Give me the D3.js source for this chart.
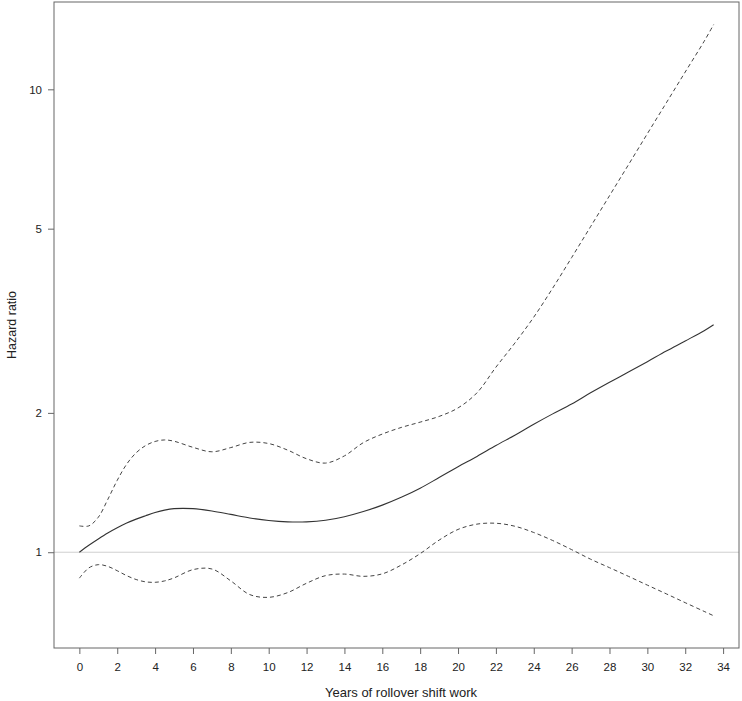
<!DOCTYPE html>
<html>
<head>
<meta charset="utf-8">
<script src="https://cdn.jsdelivr.net/npm/d3@7"></script>
<style>
  body { margin: 0; background: #fff; }
  text { font-family: "Liberation Sans", Arial, sans-serif; fill: #222; }
</style>
</head>
<body>
<div id="chart"></div>
<script>
// years of rollover shift work, and the fitted hazard ratio with its 95% band
var years = [0, 0.5, 1, 1.5, 2, 2.5, 3, 3.5, 4, 4.5, 5, 6, 7, 8, 9, 10, 11, 12, 13, 14,
  15, 16, 17, 18, 19, 20, 21, 22, 23, 24, 25, 26, 27, 28, 29, 30, 31, 32, 33, 33.5];

var hazard = [1.0, 1.035, 1.068, 1.10, 1.129, 1.156, 1.179, 1.199, 1.218, 1.233, 1.242, 1.242,
  1.228, 1.207, 1.186, 1.171, 1.163, 1.163, 1.172, 1.193, 1.224, 1.264, 1.314, 1.375, 1.45,
  1.53, 1.61, 1.70, 1.79, 1.89, 1.99, 2.09, 2.21, 2.33, 2.45, 2.58, 2.72, 2.86, 3.01, 3.10];

var lower = [0.879, 0.925, 0.940, 0.932, 0.912, 0.890, 0.873, 0.863, 0.861, 0.867, 0.880, 0.917,
  0.920, 0.867, 0.810, 0.799, 0.818, 0.857, 0.890, 0.897, 0.887, 0.898, 0.938, 0.993, 1.062,
  1.120, 1.150, 1.155, 1.138, 1.103, 1.060, 1.013, 0.966, 0.926, 0.887, 0.849, 0.813, 0.778, 0.745, 0.729];

var upper = [1.14, 1.14, 1.19, 1.30, 1.43, 1.55, 1.64, 1.70, 1.735, 1.748, 1.737, 1.685,
  1.648, 1.683, 1.727, 1.717, 1.662, 1.592, 1.558, 1.615, 1.725, 1.80, 1.86, 1.91, 1.965,
  2.05, 2.21, 2.51, 2.83, 3.22, 3.72, 4.33, 5.05, 5.89, 6.87, 8.02, 9.35, 10.9, 12.7, 13.8];

var xTicks = d3.range(0, 35, 2);
var yTicks = [1, 2, 5, 10];

const WIDTH = 742;
const HEIGHT = 701;
const LEFT = 54, RIGHT = 739, TOP = 2, BOTTOM = 648;

var xScale = d3.scaleLinear()
  .domain([-1.34, 34.84])
  .range([LEFT, RIGHT]);

var yScale = d3.scaleLog()
  .domain([0.621, 15.44])
  .range([BOTTOM, TOP]);

var svg = d3.select('#chart').append('svg')
  .attr('width', WIDTH)
  .attr('height', HEIGHT);

// reference line at HR = 1
svg.append('line')
  .attr('x1', LEFT).attr('x2', RIGHT)
  .attr('y1', yScale(1)).attr('y2', yScale(1))
  .attr('stroke', '#cfcfcf')
  .attr('stroke-width', 1);

var line = function(values){
  return d3.line()
    .x(function(d, i){ return xScale(years[i]); })
    .y(function(d){ return yScale(d); })
    .curve(d3.curveCatmullRom.alpha(0.5))(values);
};

svg.append('path')
  .attr('d', line(upper))
  .attr('fill', 'none')
  .attr('stroke', '#444')
  .attr('stroke-width', 1)
  .attr('stroke-dasharray', '4,3');

svg.append('path')
  .attr('d', line(lower))
  .attr('fill', 'none')
  .attr('stroke', '#444')
  .attr('stroke-width', 1)
  .attr('stroke-dasharray', '4,3');

svg.append('path')
  .attr('d', line(hazard))
  .attr('fill', 'none')
  .attr('stroke', '#333')
  .attr('stroke-width', 1.1);

// axes
var xAxis = d3.axisBottom(xScale).tickValues(xTicks).tickSize(6).tickPadding(9);
var yAxis = d3.axisLeft(yScale).tickValues(yTicks).tickSize(6).tickPadding(6)
  .tickFormat(d3.format('d'));

var gx = svg.append('g')
  .attr('transform', 'translate(0,' + BOTTOM + ')')
  .call(xAxis);
var gy = svg.append('g')
  .attr('transform', 'translate(' + LEFT + ',0)')
  .call(yAxis);

[gx, gy].forEach(function(g){
  g.select('.domain').remove();
  g.selectAll('.tick line').attr('stroke', '#666');
  g.selectAll('.tick text')
    .attr('font-size', 11.5)
    .attr('font-family', '"Liberation Sans", Arial, sans-serif')
    .attr('fill', '#222');
});

// plot box
svg.append('rect')
  .attr('x', LEFT).attr('y', TOP)
  .attr('width', RIGHT - LEFT).attr('height', BOTTOM - TOP)
  .attr('fill', 'none')
  .attr('stroke', '#666')
  .attr('stroke-width', 1);

svg.append('text')
  .attr('x', 401)
  .attr('y', 697)
  .attr('text-anchor', 'middle')
  .attr('font-size', 13)
  .text('Years of rollover shift work');

svg.append('text')
  .attr('transform', 'translate(16,' + (TOP + BOTTOM) / 2 + ') rotate(-90)')
  .attr('text-anchor', 'middle')
  .attr('font-size', 12.5)
  .text('Hazard ratio');
</script>
</body>
</html>
